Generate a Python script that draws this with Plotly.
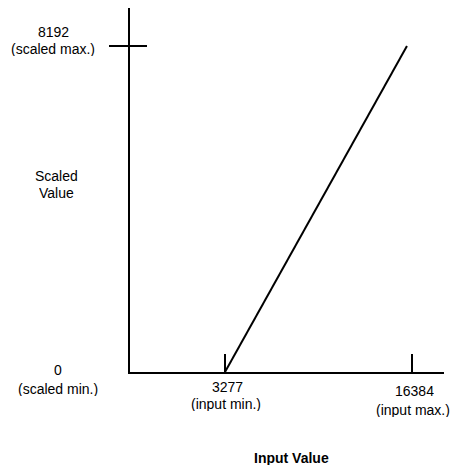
import plotly.graph_objects as go

# data
input_vals = [3277, 16030]          # line endpoints (input)
scaled_vals = [0, 8192]             # line endpoints (scaled)
x_ticks = [3277, 16384]
x_tick_labels = [["3277", "(input min.)"], ["16384", "(input max.)"]]
y_ticks = [0, 8192]
y_tick_labels = [["0", "(scaled min.)"], ["8192", "(scaled max.)"]]
y_title = ["Scaled", "Value"]
x_title = "Input Value"

W, H = 451, 466
L, R, T, B = 130, 7, 8, 94
PW, PH = W - L - R, H - T - B

def px(xp):
    return (xp - L) / PW

def py(yp):
    return (H - B - yp) / PH

FONT = "Liberation Sans, Arial, sans-serif"

fig = go.Figure()
fig.add_trace(go.Scatter(x=input_vals, y=scaled_vals, mode="lines",
                         line=dict(color="black", width=2), hoverinfo="skip",
                         showlegend=False))

fig.update_layout(
    width=W, height=H, margin=dict(l=L, r=R, t=T, b=B),
    plot_bgcolor="white", paper_bgcolor="white", showlegend=False,
    xaxis=dict(range=[-3382, 18627], showgrid=False, zeroline=False,
               showline=True, linecolor="black", linewidth=2,
               tickvals=x_ticks, ticks="inside", ticklen=18, tickwidth=2,
               tickcolor="black", showticklabels=False, fixedrange=True),
    yaxis=dict(range=[0, 9147], showgrid=False, zeroline=False,
               showline=True, linecolor="black", linewidth=2,
               tickvals=[y_ticks[1]], ticks="outside", ticklen=19, tickwidth=2,
               tickcolor="black", showticklabels=False, fixedrange=True),
)

# inside part of the crossing 8192 tick
fig.add_shape(type="line", xref="paper", yref="y", x0=0, x1=px(147),
              y0=y_ticks[1], y1=y_ticks[1], line=dict(color="black", width=2))

def txt(s, xpix, ypix, bold=False):
    fig.add_annotation(text=f"<b>{s}</b>" if bold else s, xref="paper", yref="paper",
                       x=px(xpix), y=py(ypix), xanchor="center", yanchor="middle",
                       height=14, borderpad=0,
                       showarrow=False, font=dict(family=FONT, size=14, color="black"))

# y tick labels
txt(y_tick_labels[1][0], 53, 32)
txt(y_tick_labels[1][1], 53, 49)
txt(y_tick_labels[0][0], 58, 370)
txt(y_tick_labels[0][1], 58, 389)
# y title
txt(y_title[0], 56, 176)
txt(y_title[1], 56, 193)
# x tick labels
txt(x_tick_labels[0][0], 227, 387)
txt(x_tick_labels[0][1], 226, 404)
txt(x_tick_labels[1][0], 414, 391)
txt(x_tick_labels[1][1], 413, 410)
# x title
txt(x_title, 291, 458, bold=True)

fig.write_html("out.html", config={"displayModeBar": False},
               post_script="document.body.style.margin='0';document.body.style.overflow='hidden';")
